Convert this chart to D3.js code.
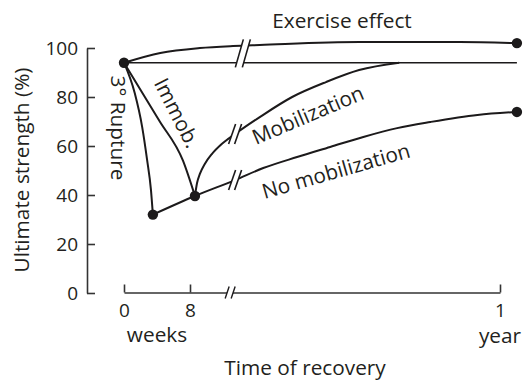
<!DOCTYPE html>
<html>
<head>
<meta charset="utf-8">
<script src="https://cdn.jsdelivr.net/npm/d3@7"></script>
<style>
  html, body { margin: 0; padding: 0; background: #fff; }
  svg text { font-family: "Open Sans", "Noto Sans", sans-serif; fill: #231f20; }
</style>
</head>
<body>
<svg id="chart" width="525" height="380"></svg>
<script>
// Recovery time in weeks (1 year = 52 weeks) and ultimate strength in %
const xTickValues = [0, 8, 52];
const xTickLabels = ["0", "8", "1"];
const yTickValues = [0, 20, 40, 60, 80, 100];

const ruptureWeeks    = [0, 1.3, 2.2, 2.8, 3.27, 3.5];
const ruptureStrength = [94, 81.6, 67.8, 54.3, 42, 32];

const immobWeeks    = [0, 4.3, 7.15, 8.7];
const immobStrength = [94, 70.2, 54, 39.6];

const noMobWeeks    = [3.5, 8.7, 14.4, 18.4, 23.2, 27.9, 32.6, 37.4, 42.1, 48.8, 54.4];
const noMobStrength = [32, 39.6, 46.1, 51, 55.5, 59.6, 63.7, 67.3, 69.8, 72.7, 73.9];

const mobWeeks    = [8.7, 9.0, 9.4, 10.1, 11.1, 12.5, 14.4, 17.9, 22.5, 27.3, 32, 37.7];
const mobStrength = [39.6, 44.9, 48.6, 52.7, 56.7, 60.8, 64.9, 71.8, 80, 86.1, 91, 94];

const exerciseWeeks    = [0, 4.4, 9.4, 14.1, 17.9, 32.1, 46.3, 54.4];
const exerciseStrength = [94, 98, 100, 100.8, 101.2, 102.4, 102.4, 102];

const baselineWeeks    = [0, 54.4];
const baselineStrength = [94, 94];

const dotWeeks    = [0, 3.5, 8.7, 54.4, 54.4];
const dotStrength = [94, 32, 39.6, 102, 73.9];

// Scale break positions (weeks)
const breakWeek      = 14.4;
const topBreakWeek   = 15.5;
const axisBreakWeek  = 13.7;

const svg = d3.select("#chart");
const ink = "#1c1a1b";
const FS = 20.8;      // label text
const TICK_FS = 19;   // tick numerals

// Piecewise time scale: weeks stretched, months compressed after the break
const x = d3.scaleLinear().domain([0, 8, 52]).range([124, 190, 500]);
const y = d3.scaleLinear().domain([0, 100]).range([293, 48]);

const zip = (xs, ys) => xs.map((d, i) => [d, ys[i]]);

// Y axis
const yAxis = svg.append("g")
  .attr("transform", "translate(87,0)")
  .call(d3.axisLeft(y).tickValues(yTickValues).tickSizeInner(-8).tickSizeOuter(0).tickPadding(9));
yAxis.selectAll("path, line").attr("stroke", "#333").attr("stroke-width", 1.6);
yAxis.selectAll("text").attr("font-size", TICK_FS).attr("font-family", "Open Sans").attr("fill", "#231f20");

// X axis
const xAxis = svg.append("g")
  .attr("transform", "translate(0,292.5)")
  .call(d3.axisBottom(x).tickValues(xTickValues)
    .tickFormat((d, i) => xTickLabels[i])
    .tickSizeInner(-8).tickSizeOuter(0).tickPadding(11));
xAxis.selectAll("path, line").attr("stroke", "#333").attr("stroke-width", 1.6);
xAxis.selectAll("text").attr("font-size", TICK_FS).attr("font-family", "Open Sans").attr("fill", "#231f20");

// Unit labels under the axis
svg.append("text").attr("x", (x(0) + x(8)) / 2).attr("y", 342)
  .attr("text-anchor", "middle").attr("font-size", FS).text("weeks");
svg.append("text").attr("x", x(52)).attr("y", 343)
  .attr("text-anchor", "middle").attr("font-size", FS).text("year");

// Axis titles
svg.append("text").attr("x", 305).attr("y", 375)
  .attr("text-anchor", "middle").attr("font-size", FS).text("Time of recovery");
svg.append("text")
  .attr("transform", `translate(29,170) rotate(-90)`)
  .attr("text-anchor", "middle").attr("font-size", FS).text("Ultimate strength (%)");

// Curves
const line = d3.line()
  .x(d => x(d[0])).y(d => y(d[1]))
  .curve(d3.curveMonotoneX);

const series = [
  zip(baselineWeeks, baselineStrength),
  zip(exerciseWeeks, exerciseStrength),
  zip(ruptureWeeks, ruptureStrength),
  zip(immobWeeks, immobStrength),
  zip(noMobWeeks, noMobStrength),
  zip(mobWeeks, mobStrength)
];
svg.append("g").selectAll("path").data(series).join("path")
  .attr("d", line)
  .attr("fill", "none")
  .attr("stroke", ink)
  .attr("stroke-width", (d, i) => i === 0 ? 1.6 : 2);

// Scale-break marks: a white gap bounded by two slanted strokes
function breakMark(cx, cy, h, lean, gap, sw) {
  const g = svg.append("g");
  const x0 = cx - gap / 2, x1 = cx + gap / 2;
  g.append("polygon")
    .attr("points", [
      [x0 - lean / 2, cy + h / 2], [x0 + lean / 2, cy - h / 2],
      [x1 + lean / 2, cy - h / 2], [x1 - lean / 2, cy + h / 2]
    ].map(p => p.join(",")).join(" "))
    .attr("fill", "#fff");
  [x0, x1].forEach(xx => {
    g.append("line")
      .attr("x1", xx - lean / 2).attr("y1", cy + h / 2)
      .attr("x2", xx + lean / 2).attr("y2", cy - h / 2)
      .attr("stroke", ink).attr("stroke-width", sw);
  });
}
const mobAtBreak = mobStrength[mobWeeks.indexOf(breakWeek)];
const noMobAtBreak = noMobStrength[noMobWeeks.indexOf(breakWeek)];
breakMark(x(breakWeek), y(mobAtBreak), 20, 7, 6, 1.6);
breakMark(x(breakWeek), y(noMobAtBreak), 20, 7, 6, 1.6);
breakMark(x(topBreakWeek), (y(exerciseStrength[4]) + y(baselineStrength[0])) / 2 - 0.5, 28, 8, 7, 1.6);
breakMark(x(axisBreakWeek), 292.5, 12, 4, 6, 1.4);

// Points
svg.append("g").selectAll("circle").data(zip(dotWeeks, dotStrength)).join("circle")
  .attr("cx", d => x(d[0])).attr("cy", d => y(d[1])).attr("r", 5.2)
  .attr("fill", ink);

// Curve labels
svg.append("text").attr("x", 342).attr("y", 28)
  .attr("text-anchor", "middle").attr("font-size", FS).text("Exercise effect");

const curveLabels = [
  { text: "3\u00b0 Rupture", cx: 118, cy: 128, angle: 90 },
  { text: "Immob.", cx: 177, cy: 113, angle: 63 },
  { text: "Mobilization", cx: 308, cy: 115, angle: -23 },
  { text: "No mobilization", cx: 336, cy: 171, angle: -16 }
];
svg.append("g").selectAll("text").data(curveLabels).join("text")
  .attr("transform", d => `translate(${d.cx},${d.cy}) rotate(${d.angle})`)
  .attr("text-anchor", "middle")
  .attr("dy", "0.35em")
  .attr("font-size", FS)
  .text(d => d.text);
</script>
</body>
</html>
